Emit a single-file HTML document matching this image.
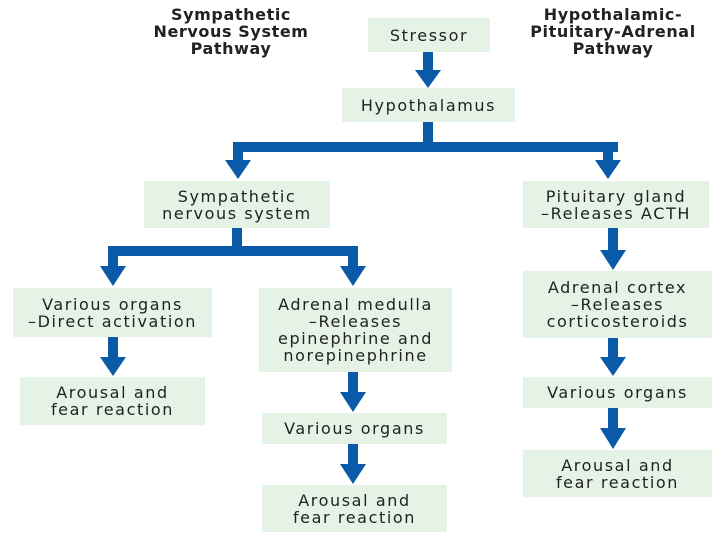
<!DOCTYPE html>
<html><head><style>
body{margin:0;width:720px;height:540px;background:#fff;position:relative;overflow:hidden;font-family:"DejaVu Sans","Liberation Sans",sans-serif;}
.b{position:absolute;background:#e4f3e6;color:#222;font-size:16px;line-height:17px;display:flex;align-items:center;justify-content:center;text-align:center;letter-spacing:1.6px;white-space:nowrap}
.t{position:absolute;font-weight:bold;font-size:16px;line-height:17px;text-align:center;color:#222;width:220px;letter-spacing:0.6px}
svg{position:absolute;left:0;top:0}
</style></head><body>
<svg width="720" height="540">
<g fill="#0a5aa8">
<rect x="423" y="52" width="10" height="20"/><polygon points="415,70 441,70 428,88"/>
<rect x="423" y="122" width="10" height="28"/>
<rect x="233" y="142" width="385" height="10"/>
<rect x="233" y="142" width="10" height="20"/><polygon points="225,160 251,160 238,179"/>
<rect x="603" y="142" width="10" height="20"/><polygon points="595,160 621,160 608,179"/>
<rect x="232" y="228" width="10" height="24"/>
<rect x="108" y="246" width="250" height="10"/>
<rect x="108" y="246" width="10" height="22"/><polygon points="100,266 126,266 113,286"/>
<rect x="348" y="246" width="10" height="22"/><polygon points="340,266 366,266 353,286"/>
<rect x="608" y="228" width="10" height="24"/><polygon points="600,250 626,250 613,270"/>
<rect x="108" y="337" width="10" height="22"/><polygon points="100,357 126,357 113,376"/>
<rect x="348" y="372" width="10" height="22"/><polygon points="340,392 366,392 353,412"/>
<rect x="348" y="444" width="10" height="22"/><polygon points="340,464 366,464 353,484"/>
<rect x="608" y="338" width="10" height="21"/><polygon points="600,357 626,357 613,376"/>
<rect x="608" y="408" width="10" height="22"/><polygon points="600,428 626,428 613,449"/>
</g></svg>
<div class="t" style="left:121px;top:6px">Sympathetic<br>Nervous System<br>Pathway</div>
<div class="t" style="left:503px;top:6px">Hypothalamic-<br>Pituitary-Adrenal<br>Pathway</div>
<div class="b" style="left:368px;top:18px;width:122px;height:34px">Stressor</div>
<div class="b" style="left:342px;top:88px;width:173px;height:34px">Hypothalamus</div>
<div class="b" style="left:144px;top:181px;width:186px;height:47px">Sympathetic<br>nervous system</div>
<div class="b" style="left:523px;top:181px;width:186px;height:47px">Pituitary gland<br>–Releases ACTH</div>
<div class="b" style="left:13px;top:288px;width:199px;height:49px">Various organs<br>–Direct activation</div>
<div class="b" style="left:259px;top:288px;width:193px;height:84px">Adrenal medulla<br>–Releases<br>epinephrine and<br>norepinephrine</div>
<div class="b" style="left:523px;top:271px;width:189px;height:67px">Adrenal cortex<br>–Releases<br>corticosteroids</div>
<div class="b" style="left:20px;top:377px;width:185px;height:48px">Arousal and<br>fear reaction</div>
<div class="b" style="left:262px;top:413px;width:185px;height:31px">Various organs</div>
<div class="b" style="left:262px;top:485px;width:185px;height:47px">Arousal and<br>fear reaction</div>
<div class="b" style="left:523px;top:377px;width:189px;height:31px">Various organs</div>
<div class="b" style="left:523px;top:450px;width:189px;height:47px">Arousal and<br>fear reaction</div>
</body></html>
